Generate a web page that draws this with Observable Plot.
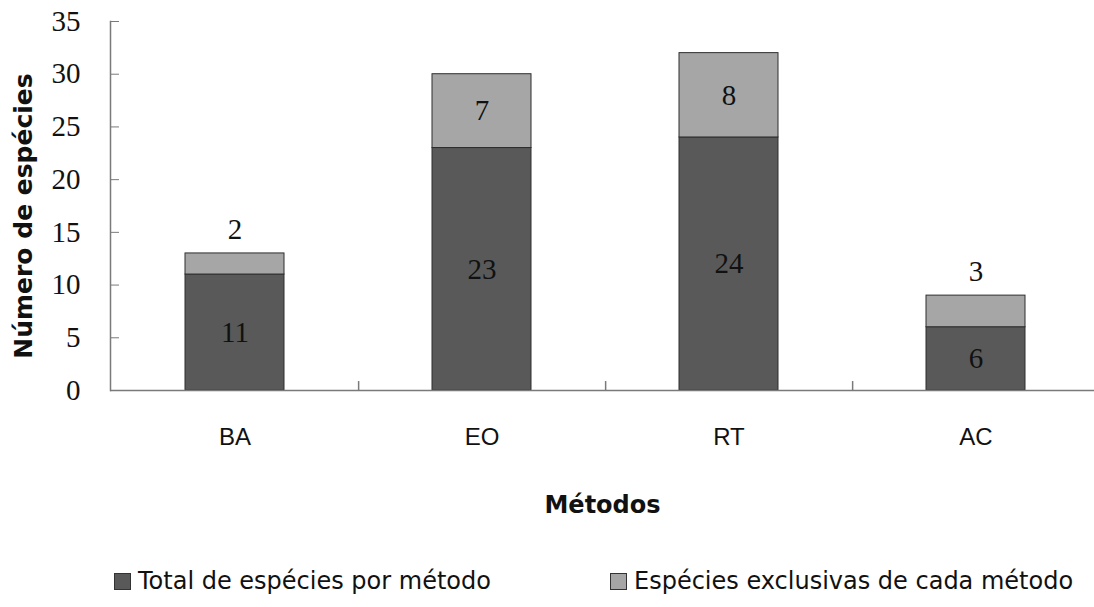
<!DOCTYPE html>
<html>
<head>
<meta charset="utf-8">
<script src="https://cdn.jsdelivr.net/npm/d3@7"></script>
<script src="https://cdn.jsdelivr.net/npm/@observablehq/plot@0.6"></script>
<style>
  html, body { margin: 0; padding: 0; background: #fff; }
  #chart { width: 1094px; }
  #legend { position: relative; width: 1094px; height: 52px; font-family: "DejaVu Sans", Verdana, sans-serif; font-size: 24px; color: #111; }
  .item { position: absolute; top: 12px; height: 28px; display: flex; align-items: center; gap: 7px; white-space: nowrap; }
  .sw { width: 15px; height: 15px; border: 1px solid #333; }
</style>
</head>
<body>
<div id="chart"></div>
<div id="legend"></div>
<script>
const methods = ["BA", "EO", "RT", "AC"];
const totalSpecies = [11, 23, 24, 6];
const exclusiveSpecies = [2, 7, 8, 3];
const seriesNames = ["Total de espécies por método", "Espécies exclusivas de cada método"];
const seriesColors = ["#595959", "#a6a6a6"];
const yTicks = [0, 5, 10, 15, 20, 25, 30, 35];
const xTitle = "Métodos";
const yTitle = "Número de espécies";

const data = methods.flatMap((m, i) => [
  {method: m, series: seriesNames[0], value: totalSpecies[i]},
  {method: m, series: seriesNames[1], value: exclusiveSpecies[i]}
]);

const labelsInside = [];
const labelsAbove = [];
methods.forEach((m, i) => {
  labelsInside.push({method: m, y: totalSpecies[i] / 2, text: String(totalSpecies[i])});
  if (exclusiveSpecies[i] >= 5) {
    labelsInside.push({method: m, y: totalSpecies[i] + exclusiveSpecies[i] / 2, text: String(exclusiveSpecies[i])});
  } else {
    labelsAbove.push({method: m, y: totalSpecies[i] + exclusiveSpecies[i], text: String(exclusiveSpecies[i])});
  }
});

const W = 1094, H = 555, ML = 110, MT = 21, MB = 165;
const step = (1099 - ML) / methods.length;

const chart = Plot.plot({
  width: W,
  height: H,
  marginLeft: ML,
  marginRight: 0,
  marginTop: MT,
  marginBottom: MB,
  style: {background: "#fff", color: "#111"},
  x: {domain: methods, range: [ML, 1099], paddingInner: 0.6, paddingOuter: 0.3},
  y: {domain: [0, 35]},
  color: {domain: seriesNames, range: seriesColors},
  marks: [
    Plot.barY(data, {x: "method", y: "value", fill: "series", stroke: "#2e2e2e", strokeWidth: 1}),
    Plot.text(labelsInside, {x: "method", y: "y", text: "text", fontFamily: "Liberation Serif", fontSize: 29, fill: "#111"}),
    Plot.text(labelsAbove, {x: "method", y: "y", text: "text", dy: -24, fontFamily: "Liberation Serif", fontSize: 29, fill: "#111"}),
    Plot.frame({anchor: "left", stroke: "#7a7a7a", strokeWidth: 1.5}),
    Plot.ruleY([0], {stroke: "#7a7a7a", strokeWidth: 1.5}),
    Plot.ruleX(methods.slice(0, methods.length - 1), {x: d => d, y1: 0, y2: 0.85, dx: step / 2, stroke: "#7a7a7a", strokeWidth: 1.5}),
    Plot.axisY({ticks: yTicks, tickSize: -9, tickPadding: 39, stroke: "#7a7a7a", fill: "#111", fontSize: 29, fontFamily: "Liberation Serif", label: null}),
    Plot.axisX({tickSize: 0, tickPadding: 37, fontSize: 24, fontFamily: "Liberation Sans", fill: "#111", label: null}),
    Plot.text([xTitle], {frameAnchor: "bottom", dy: 122, fontSize: 24, fontWeight: "bold", fontFamily: "DejaVu Sans", fill: "#111"}),
    Plot.text([yTitle], {frameAnchor: "left", textAnchor: "middle", lineAnchor: "middle", dx: -87, dy: 10, rotate: -90, fontSize: 25, fontWeight: "bold", fontFamily: "DejaVu Sans", fill: "#111"})
  ]
});
document.getElementById("chart").appendChild(chart);

const legend = document.getElementById("legend");
const legendLefts = [114, 610];
seriesNames.forEach((name, i) => {
  const item = document.createElement("div");
  item.className = "item";
  item.style.left = legendLefts[i] + "px";
  const sw = document.createElement("div");
  sw.className = "sw";
  sw.style.background = seriesColors[i];
  const label = document.createElement("span");
  label.textContent = name;
  item.appendChild(sw);
  item.appendChild(label);
  legend.appendChild(item);
});
</script>
</body>
</html>
